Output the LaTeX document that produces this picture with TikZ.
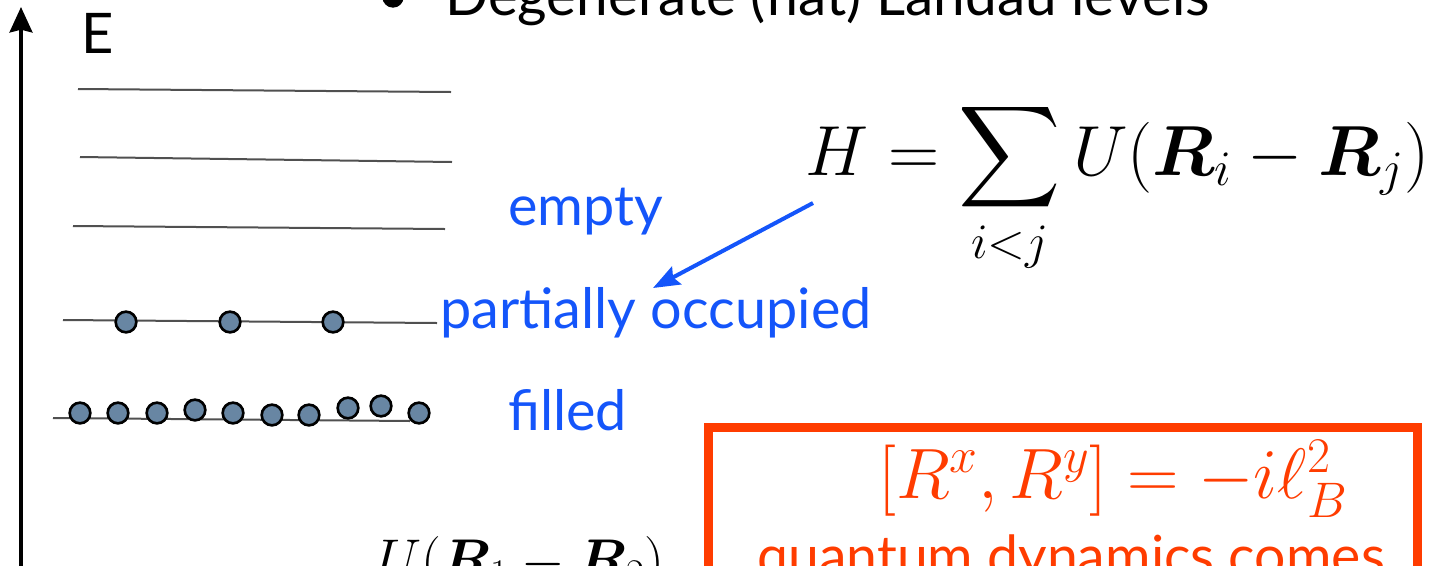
\RequirePackage{fix-cm}
\documentclass[tikz,border=0pt]{standalone}
\usepackage{amsmath,bm}
\usepackage[no-math]{fontspec}
\setmainfont{Lato}
\DeclareFontShape{OMX}{cmex}{m}{n}{<->cmex10}{}
\usetikzlibrary{arrows.meta}
\definecolor{levelgray}{RGB}{80,80,80}
\definecolor{dotfill}{RGB}{104,134,163}
\definecolor{labelblue}{RGB}{20,85,250}
\definecolor{boxred}{RGB}{255,60,0}
\tikzset{
  level/.style={levelgray, line width=1.5pt},
  electron/.style={circle, draw=black, fill=dotfill, line width=2pt,
    minimum size=15.5pt, inner sep=0pt},
  txt/.style={anchor=base west, inner sep=0pt},
  tag/.style={txt, labelblue, font=\fontsize{41.8}{48}\selectfont},
}
\begin{document}
\begin{tikzpicture}[x=0.75pt, y=-0.75pt]
  \useasboundingbox (0,0) rectangle (1435,565);
  \clip (0,0) rectangle (1435,565);

  % title line, cut at the top
  \fill (393,-3) circle (8pt);
  \node[txt, font=\fontsize{42.5}{50}\selectfont] (title) at (445,15)
    {Degenerate (flat) Landau levels};

  % energy axis
  \coordinate (axisbot) at (21,600);
  \coordinate (axistop) at (21,7);
  \draw[line width=3pt, -{Stealth[length=19pt, width=17pt, inset=2pt]}] (axisbot) -- (axistop);
  \node[txt, font=\fontsize{42}{50}\selectfont] (E) at (81,53) {E};

  % Landau levels
  \draw[level] (78,89) -- (451,92);
  \draw[level] (80,157) -- (452,162);
  \draw[level] (73,226) -- (445,229);
  \draw[level] (63,320) -- (437,323);
  \draw[level] (53,418) -- (410,421);

  % electrons
  \foreach \x [count=\i] in {126,230,333}
    \node[electron] (p\i) at (\x,322) {};
  \foreach \x/\y [count=\i] in {80/413,118/413,157/413,195/410,233/413,
      272/415,309/415,348/408,381/406,419/413}
    \node[electron] (f\i) at (\x,\y) {};

  % labels
  \node[tag] (empty) at (508,225) {empty};
  \node[tag] (partial) at (440,328) {partially occupied};
  \node[tag] (filled) at (508,430) {filled};

  % interaction
  \node[txt, font=\fontsize{53.2}{60}\selectfont] (ham) at (805,175)
    {$\displaystyle H=\sum_{i<j}U(\bm{R}_i-\bm{R}_j)$};
  \coordinate (hfoot) at (813,203);
  \coordinate (occtip) at (653,288);
  \draw[labelblue, line width=3pt, -{Stealth[length=20pt, width=15pt, inset=3pt]}]
    (hfoot) -- (occtip);
  \node[txt, font=\fontsize{42}{50}\selectfont] (pair) at (378,578)
    {$U(\bm{R}_1-\bm{R}_2)$};

  % guiding centre algebra
  \draw[boxred, line width=6.75pt] (708,427.5) rectangle (1417,640);
  \node[txt, boxred, font=\fontsize{53.5}{60}\selectfont] (comm) at (878,498)
    {$[R^x,R^y]=-i\ell_B^2$};
  \node[txt, boxred, font=\fontsize{41.5}{48}\selectfont] (quant) at (757,575)
    {quantum dynamics comes};
\end{tikzpicture}
\end{document}
